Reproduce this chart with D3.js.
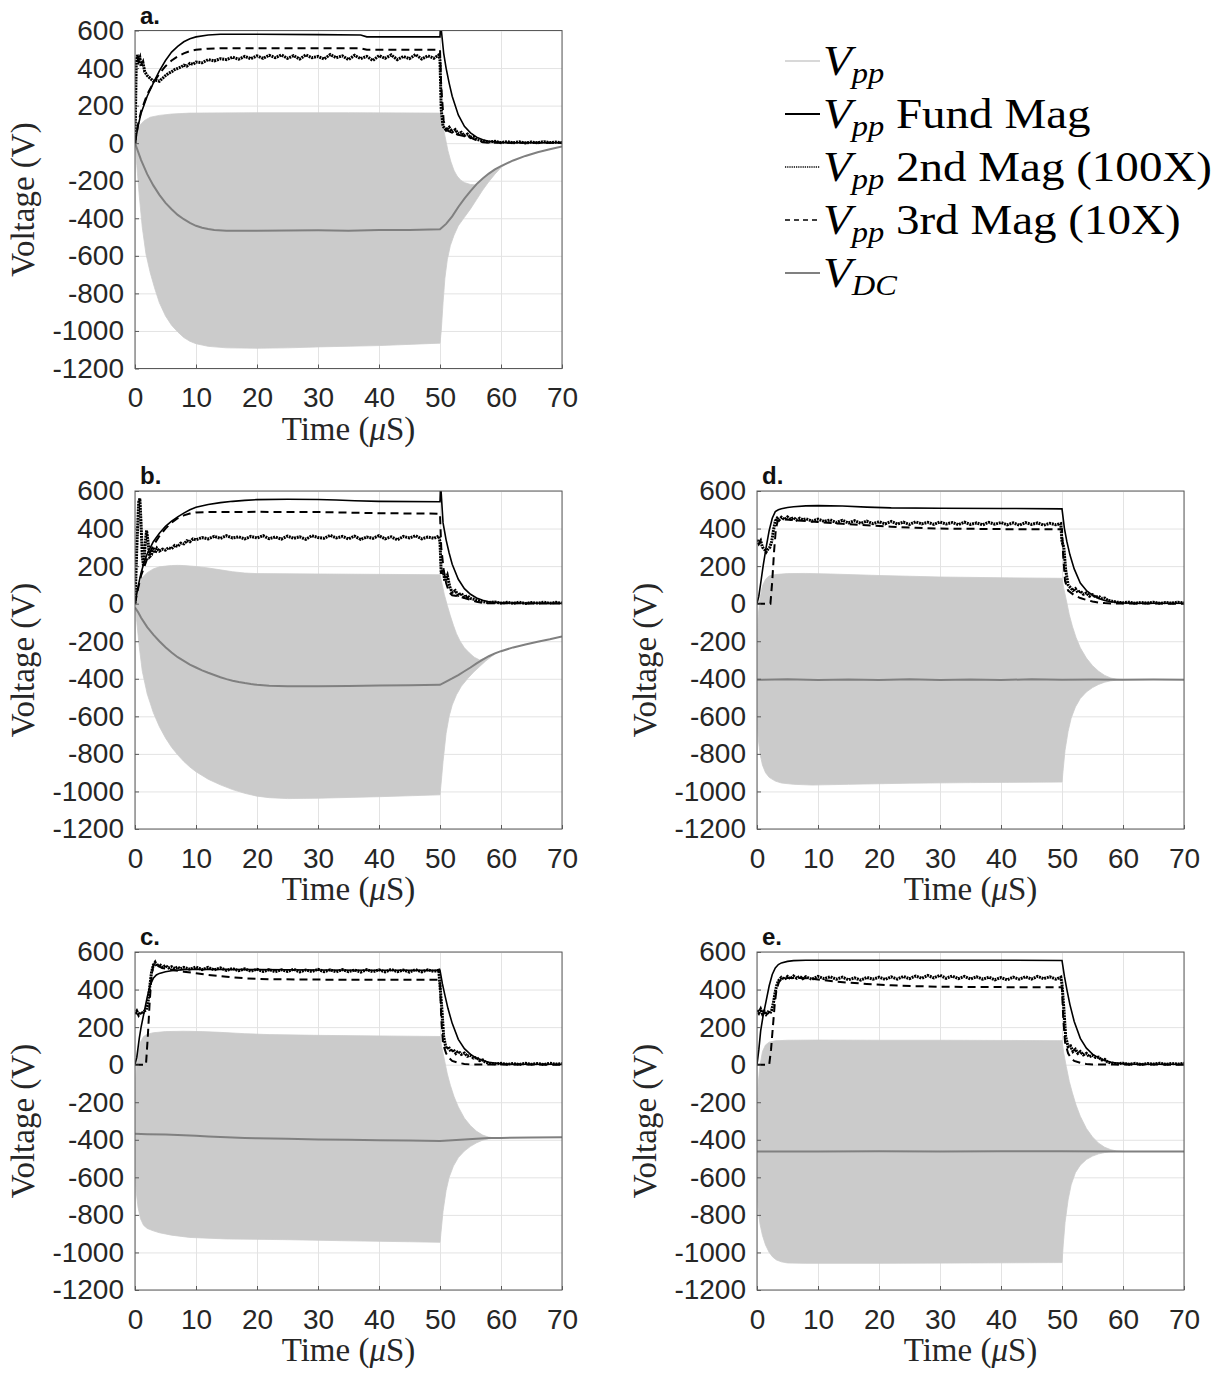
<!DOCTYPE html>
<html>
<head>
<meta charset="utf-8">
<script src="https://cdn.jsdelivr.net/npm/d3@7"></script>
<style>
  body { margin: 0; background: #ffffff; }
  svg { display: block; }
</style>
</head>
<body>
<svg id="fig" width="1228" height="1376"></svg>
<script>
// ---------- axis ticks ----------
const xTicks = [0, 10, 20, 30, 40, 50, 60, 70];
const yTicks = [-1200, -1000, -800, -600, -400, -200, 0, 200, 400, 600];

// ---------- panel a ----------
const upA = [[0,0],[0.3,50],[0.8,95],[1.5,120],[2.5,138],[4,148],[6,155],[9,160],[20,162],[35,162],[50,160],[50.3,120],[50.8,40],[51.3,-40],[51.8,-100],[52.3,-145],[52.8,-175],[53.4,-197],[54,-210],[55,-220],[55.8,-222],[56.5,-205],[57,-190],[58,-163],[59,-141],[60,-123],[61,-107]];
const lowA = [[0,0],[0.3,-120],[0.7,-280],[1.2,-450],[1.8,-590],[2.5,-690],[3.2,-770],[4,-850],[5,-920],[6,-970],[7,-1005],[8,-1035],[9,-1055],[10,-1068],[12,-1082],[15,-1090],[20,-1092],[25,-1090],[30,-1085],[40,-1078],[50,-1065],[50.2,-1000],[50.5,-850],[50.8,-720],[51.2,-620],[51.7,-545],[52.3,-490],[53,-440],[54,-395],[55,-350],[56,-300],[57,-250],[58,-205],[59,-165],[60,-130],[61,-107]];
const vdcA = [[0,0],[0.5,-45],[1,-90],[2,-165],[3,-225],[4,-275],[5,-318],[6,-352],[7,-382],[8,-405],[9,-425],[10,-440],[11,-450],[12,-457],[13,-462],[15,-466],[20,-467],[25,-465],[30,-464],[35,-466],[40,-463],[45,-462],[50,-459],[51,-430],[52,-390],[53,-340],[54,-295],[55,-255],[56,-218],[57,-188],[58,-162],[59,-140],[60,-122],[62,-92],[64,-68],[66,-48],[68,-32],[70,-18]];
const fundA = [[0,0],[0.5,90],[1,160],[2,250],[3,320],[4,385],[5,440],[6,485],[7,515],[8,540],[9,556],[10,566],[12,576],[14,580],[20,580],[30,578],[37,576],[38,566],[50,566],[50.1,640],[50.6,480],[51,400],[51.5,320],[52,250],[53,150],[54,90],[55,55],[56,32],[57,18],[58,10],[60,4],[62,2],[70,2]];
const dot2A = [[0,0],[0.2,420],[0.4,470],[0.6,440],[0.8,455],[1,410],[1.3,430],[1.6,380],[2,360],[2.5,345],[3,330],[3.5,335],[4,330],[4.5,345],[5,360],[5.5,372],[6,380],[6.5,392],[7,398],[7.5,405],[8,415],[8.5,410],[9,425],[9.5,420],[10,432],[11,428],[12,445],[13,438],[14,450],[15,445],[16,458],[17,447],[18,462],[19,450],[20,465],[21,452],[22,468],[23,455],[24,470],[25,452],[26,466],[27,448],[28,470],[29,455],[30,462],[31,448],[32,472],[33,455],[34,465],[35,445],[36,468],[37,450],[38,462],[39,440],[40,466],[41,452],[42,470],[43,445],[44,462],[45,450],[46,472],[47,448],[48,465],[49,452],[49.8,470],[50,440],[50.2,180],[50.5,90],[51,70],[51.5,85],[52,60],[52.5,72],[53,50],[53.5,58],[54,40],[54.5,48],[55,30],[55.5,35],[56,20],[57,12],[58,6],[59,10],[60,3],[61,8],[62,2],[63,7],[64,1],[65,6],[66,2],[67,8],[68,3],[69,6],[70,2]];
const dash3A = [[0,0],[0.5,100],[1,170],[2,260],[3,320],[4,370],[5,410],[6,440],[7,462],[8,478],[9,490],[10,497],[12,503],[15,506],[37,505],[38,497],[50,497],[50.2,300],[50.6,120],[51,70],[52,55],[53,45],[54,38],[55,30],[56,15],[57,5],[58,2],[70,2]];

// ---------- panel b ----------
const upB = [[0,0],[0.3,50],[0.7,100],[1.2,140],[2,165],[3,185],[4,196],[5,200],[6,203],[7,204],[8,203],[10,198],[12,190],[14,180],[16,170],[18,163],[20,160],[30,158],[40,156],[50,154],[50.3,110],[50.7,50],[51.2,-10],[51.7,-65],[52.2,-115],[52.7,-160],[53.3,-200],[54,-235],[54.8,-262],[55.6,-285],[56.5,-300],[57.5,-288],[58.5,-272],[59.5,-259]];
const lowB = [[0,0],[0.3,-100],[0.7,-230],[1.2,-360],[2,-480],[3,-580],[4,-655],[5,-715],[6,-765],[7,-805],[8,-840],[9,-870],[10,-895],[12,-935],[14,-965],[16,-990],[18,-1010],[20,-1025],[22,-1033],[25,-1038],[30,-1036],[40,-1028],[50,-1018],[50.2,-950],[50.5,-840],[51,-690],[51.5,-600],[52,-540],[52.7,-485],[53.5,-440],[54.5,-400],[55.5,-365],[56.5,-335],[57.5,-305],[58.5,-280],[59.5,-259]];
const vdcB = [[0,-20],[0.5,-45],[1,-75],[2,-125],[3,-165],[4,-200],[5,-232],[6,-260],[7,-285],[8,-305],[9,-325],[10,-340],[11,-355],[12,-368],[13,-380],[14,-392],[15,-402],[16,-410],[17,-417],[18,-423],[19,-428],[20,-432],[22,-437],[25,-440],[30,-440],[35,-438],[40,-436],[45,-434],[50,-432],[51,-415],[52,-398],[53,-380],[54,-360],[55,-340],[56,-318],[57,-298],[58,-280],[59,-265],[60,-253],[62,-233],[64,-217],[66,-203],[68,-190],[70,-175]];
const fundB = [[0,0],[0.5,90],[1,165],[1.5,220],[2,265],[3,330],[4,375],[5,412],[6,440],[7,462],[8,482],[9,500],[10,513],[12,528],[14,538],[16,545],[18,550],[20,554],[25,556],[30,555],[33,552],[36,548],[40,545],[50,543],[50.1,640],[50.5,430],[51,340],[51.5,270],[52,210],[53,130],[54,80],[55,50],[56,30],[57,18],[58,10],[60,4],[70,2]];
const dot2B = [[0,0],[0.3,300],[0.6,540],[0.8,560],[1,420],[1.2,250],[1.4,200],[1.7,330],[1.9,390],[2.1,340],[2.4,250],[2.7,260],[3,300],[3.3,270],[3.6,295],[4,280],[4.5,290],[5,285],[5.5,298],[6,292],[6.5,310],[7,305],[7.5,322],[8,318],[8.5,335],[9,330],[9.5,345],[10,340],[11,352],[12,345],[13,358],[14,348],[15,362],[16,350],[17,356],[18,345],[19,358],[20,350],[21,362],[22,346],[23,355],[24,344],[25,360],[26,348],[27,356],[28,343],[29,362],[30,352],[31,348],[32,364],[33,350],[34,358],[35,345],[36,360],[37,342],[38,355],[39,348],[40,362],[41,345],[42,356],[43,340],[44,358],[45,350],[46,362],[47,345],[48,355],[49,348],[49.8,360],[50,330],[50.2,160],[50.5,180],[50.8,120],[51.2,150],[51.6,90],[52,60],[52.5,70],[53,45],[53.5,55],[54,35],[54.5,42],[55,28],[56,20],[57,10],[58,6],[59,9],[60,3],[61,7],[62,2],[63,8],[64,1],[65,6],[66,3],[67,8],[68,2],[69,7],[70,3]];
const dash3B = [[0,0],[0.5,80],[1,150],[2,240],[3,310],[4,360],[5,400],[6,432],[7,455],[8,470],[9,480],[10,486],[12,488],[20,489],[30,488],[40,482],[50,479],[50.2,300],[50.6,180],[51,110],[51.5,60],[52,45],[53,40],[54,30],[55,20],[56,10],[57,4],[58,2],[70,1]];

// ---------- panel c ----------
const upC = [[0,-150],[0.2,-30],[0.5,60],[0.9,120],[1.4,150],[2,162],[3,170],[5,176],[8,178],[11,176],[14,172],[18,165],[22,160],[30,156],[40,153],[50,150],[50.3,90],[50.7,30],[51.2,-50],[51.7,-110],[52.3,-170],[53,-225],[54,-285],[55,-325],[56,-355],[57,-375],[58,-386],[59,-390],[60,-390]];
const lowC = [[0,-560],[0.2,-680],[0.5,-760],[0.9,-820],[1.4,-855],[2,-872],[3,-885],[4,-895],[6,-908],[9,-920],[15,-928],[25,-932],[35,-938],[45,-943],[50,-946],[50.2,-880],[50.5,-780],[51,-670],[51.5,-600],[52.2,-540],[53,-495],[54,-460],[55,-435],[56,-416],[57,-402],[58,-395],[59,-391],[60,-390]];
const vdcC = [[0,-368],[2,-370],[5,-372],[8,-376],[10,-378],[12,-382],[15,-386],[18,-390],[20,-392],[25,-395],[30,-398],[35,-400],[40,-403],[45,-404],[50,-406],[52,-402],[54,-398],[56,-394],[58,-391],[60,-390],[65,-388],[70,-387]];
const fundC = [[0,0],[0.3,40],[0.7,140],[1,200],[1.5,280],[2,360],[2.5,425],[3,460],[3.5,478],[4,486],[5,495],[6,500],[8,506],[10,508],[20,506],[30,504],[40,503],[50,502],[50.4,430],[50.8,370],[51.3,300],[52,220],[53,135],[54,85],[55,55],[56,35],[57,22],[58,13],[60,5],[62,2],[70,2]];
const dot2C = [[0,270],[0.3,285],[0.6,265],[0.9,280],[1.2,270],[1.5,285],[1.8,290],[2.1,320],[2.4,410],[2.7,490],[3,530],[3.3,545],[3.6,525],[4,535],[4.5,518],[5,528],[5.5,515],[6,522],[6.5,512],[7,520],[7.5,510],[8,518],[9,508],[10,520],[11,506],[12,518],[13,505],[14,515],[15,502],[16,512],[17,500],[18,510],[19,498],[20,508],[21,496],[22,506],[23,495],[24,505],[25,496],[26,508],[27,494],[28,504],[29,496],[30,508],[31,495],[32,505],[33,494],[34,506],[35,495],[36,504],[37,493],[38,506],[39,495],[40,505],[41,494],[42,507],[43,495],[44,504],[45,493],[46,506],[47,494],[48,505],[49,496],[49.8,503],[50,420],[50.3,300],[50.6,150],[51,85],[51.4,95],[51.8,70],[52.2,80],[52.6,60],[53,72],[53.5,55],[54,62],[54.5,45],[55,50],[55.5,35],[56,38],[56.5,22],[57,25],[57.5,12],[58,8],[59,4],[60,7],[61,2],[62,6],[63,1],[64,7],[65,2],[66,6],[67,1],[68,7],[69,3],[70,5]];
const dash3C = [[0,0],[1.8,0],[2.1,150],[2.4,330],[2.7,470],[3,530],[3.3,540],[3.8,525],[4.5,515],[6,505],[8,495],[10,487],[12,478],[15,468],[18,460],[22,455],[30,453],[40,452],[50,452],[50.2,250],[50.5,110],[51,60],[51.5,35],[52,20],[53,10],[54,4],[55,1],[70,0]];

// ---------- panel d ----------
const upD = [[0,-200],[0.2,-60],[0.5,30],[0.9,95],[1.4,130],[2,148],[3,155],[5,160],[8,161],[12,158],[20,150],[30,142],[40,138],[50,135],[50.3,80],[50.7,20],[51.2,-60],[51.7,-120],[52.3,-180],[53,-235],[54,-290],[55,-330],[56,-360],[57,-382],[58,-396],[59,-403],[60,-405]];
const lowD = [[0,-620],[0.2,-720],[0.5,-800],[0.9,-860],[1.4,-900],[2,-925],[3,-945],[4,-955],[6,-962],[9,-966],[15,-962],[25,-956],[35,-953],[50,-950],[50.2,-880],[50.5,-780],[51,-680],[51.5,-610],[52.2,-550],[53,-505],[54,-470],[55,-447],[56,-430],[57,-418],[58,-411],[59,-407],[60,-405]];
const vdcD = [[0,-405],[5,-403],[10,-407],[15,-404],[20,-406],[25,-403],[30,-406],[35,-404],[40,-406],[45,-403],[50,-405],[55,-404],[60,-405],[65,-404],[70,-405]];
const fundD = [[0,0],[0.3,40],[0.7,130],[1,200],[1.5,300],[2,390],[2.5,455],[3,490],[3.5,500],[4,505],[5,512],[6,516],[8,521],[10,522],[14,520],[18,514],[22,510],[30,508],[40,507],[50,505],[50.4,400],[50.8,330],[51.3,260],[52,185],[53,110],[54,70],[55,45],[56,28],[57,17],[58,10],[60,4],[62,2],[70,2]];
const dot2D = [[0,340],[0.3,320],[0.6,335],[0.9,300],[1.2,290],[1.5,275],[1.8,290],[2.1,300],[2.4,330],[2.7,390],[3,440],[3.3,455],[3.6,445],[4,460],[4.5,448],[5,462],[5.5,450],[6,458],[6.5,445],[7,455],[7.5,448],[8,452],[9,440],[10,450],[11,438],[12,446],[13,432],[14,444],[15,430],[16,442],[17,428],[18,440],[19,426],[20,436],[21,425],[22,438],[23,424],[24,434],[25,422],[26,436],[27,425],[28,433],[29,422],[30,435],[31,424],[32,432],[33,421],[34,434],[35,422],[36,430],[37,420],[38,433],[39,423],[40,432],[41,420],[42,430],[43,418],[44,432],[45,422],[46,430],[47,418],[48,428],[49,420],[49.8,426],[50,330],[50.3,300],[50.6,180],[51,100],[51.4,85],[51.8,70],[52.2,80],[52.6,60],[53,68],[53.5,50],[54,58],[54.5,40],[55,48],[55.5,35],[56,40],[56.5,28],[57,30],[57.5,18],[58,15],[59,8],[60,5],[61,8],[62,2],[63,7],[64,3],[65,8],[66,2],[67,6],[68,3],[69,8],[70,4]];
const dash3D = [[0,0],[2.2,0],[2.5,120],[2.8,280],[3.1,400],[3.4,440],[4,450],[6,445],[8,440],[10,435],[14,425],[18,418],[22,410],[26,404],[30,400],[40,397],[50,396],[50.2,250],[50.5,120],[51,70],[52,45],[53,30],[54,20],[55,12],[56,6],[57,3],[58,1],[70,0]];

// ---------- panel e ----------
const upE = [[0,-250],[0.2,-100],[0.5,0],[0.9,70],[1.4,105],[2,120],[3,127],[5,130],[10,131],[20,130],[30,130],[40,129],[50,128],[50.3,60],[50.7,-10],[51.2,-90],[51.7,-150],[52.3,-215],[53,-275],[54,-340],[55,-385],[56,-418],[57,-440],[58,-453],[59,-460],[60,-462]];
const lowE = [[0,-680],[0.2,-780],[0.5,-850],[0.9,-910],[1.4,-960],[2,-1000],[2.6,-1025],[3.2,-1040],[4,-1050],[5,-1056],[8,-1058],[20,-1058],[35,-1056],[50,-1054],[50.2,-960],[50.5,-840],[51,-720],[51.5,-640],[52.2,-575],[53,-535],[54,-505],[55,-487],[56,-475],[57,-468],[58,-464],[59,-462],[60,-462]];
const vdcE = [[0,-462],[10,-462],[20,-461],[30,-462],[40,-461],[50,-461],[60,-462],[70,-462]];
const fundE = [[0,0],[0.3,80],[0.6,180],[1,260],[1.5,340],[2,420],[2.5,480],[3,515],[3.5,533],[4,542],[5,550],[6,554],[8,556],[20,556],[30,556],[40,556],[50,555],[50.4,470],[50.8,400],[51.3,320],[52,230],[53,140],[54,88],[55,56],[56,36],[57,22],[58,13],[60,5],[62,2],[70,2]];
const dot2E = [[0,290],[0.3,275],[0.6,295],[0.9,270],[1.2,285],[1.5,268],[1.8,280],[2.1,272],[2.4,290],[2.7,330],[3,390],[3.3,430],[3.6,450],[4,465],[4.5,455],[5,470],[5.5,458],[6,472],[6.5,460],[7,470],[7.5,458],[8,468],[9,455],[10,470],[11,458],[12,468],[13,455],[14,466],[15,452],[16,462],[17,450],[18,465],[19,455],[20,466],[21,454],[22,468],[23,456],[24,470],[25,458],[26,472],[27,460],[28,475],[29,462],[30,476],[31,460],[32,472],[33,458],[34,470],[35,456],[36,468],[37,455],[38,466],[39,452],[40,464],[41,452],[42,466],[43,455],[44,468],[45,456],[46,470],[47,458],[48,468],[49,455],[49.8,466],[50,430],[50.3,300],[50.6,150],[51,95],[51.4,100],[51.8,70],[52.2,82],[52.6,60],[53,70],[53.5,52],[54,60],[54.5,42],[55,50],[55.5,38],[56,40],[56.5,25],[57,28],[57.5,14],[58,9],[59,4],[60,8],[61,2],[62,7],[63,1],[64,6],[65,3],[66,8],[67,2],[68,6],[69,3],[70,7]];
const dash3E = [[0,0],[2,0],[2.3,80],[2.6,200],[2.9,320],[3.2,400],[3.6,440],[4,455],[5,462],[7,462],[9,458],[11,450],[13,442],[15,437],[18,430],[22,423],[26,418],[30,415],[40,413],[50,412],[50.2,250],[50.5,120],[51,60],[51.5,35],[52,20],[53,10],[54,4],[55,1],[70,0]];

// ---------- legend entries ----------
const legendSub = ["pp", "pp", "pp", "pp", "DC"];
const legendText = ["", " Fund Mag", " 2nd Mag (100X)", " 3rd Mag (10X)", ""];

// ---------- styles ----------
const C = {
  fill: "#cbcbcb",
  vdc: "#808080",
  ink: "#000000",
  text: "#262626",
  grid: "#e3e3e3",
  box: "#5a5a5a"
};

const panels = [
  { key: "a", up: upA, low: lowA, vdc: vdcA, fund: fundA, dot2: dot2A, dash3: dash3A },
  { key: "b", up: upB, low: lowB, vdc: vdcB, fund: fundB, dot2: dot2B, dash3: dash3B },
  { key: "c", up: upC, low: lowC, vdc: vdcC, fund: fundC, dot2: dot2C, dash3: dash3C },
  { key: "d", up: upD, low: lowD, vdc: vdcD, fund: fundD, dot2: dot2D, dash3: dash3D },
  { key: "e", up: upE, low: lowE, vdc: vdcE, fund: fundE, dot2: dot2E, dash3: dash3E }
];

// axes placement (top-left corner of each plot box)
const origin = { a: [135, 30.5], b: [135, 491], c: [135, 952], d: [757, 491], e: [757, 952] };
const W = 427, H = 338;

const svg = d3.select("#fig");
const defs = svg.append("defs");

function drawPanel(p) {
  const [ox, oy] = origin[p.key];
  const x = d3.scaleLinear().domain([0, 70]).range([0, W]);
  const y = d3.scaleLinear().domain([-1200, 600]).range([H, 0]);
  const g = svg.append("g").attr("transform", `translate(${ox},${oy})`);

  defs.append("clipPath").attr("id", "clip-" + p.key)
    .append("rect").attr("width", W).attr("height", H);

  // grid
  g.append("g").attr("transform", `translate(0,${H})`)
    .call(d3.axisBottom(x).tickValues(xTicks).tickSize(-H).tickFormat(""))
    .call(s => s.select(".domain").remove())
    .call(s => s.selectAll("line").attr("stroke", C.grid).attr("stroke-width", 1));
  g.append("g")
    .call(d3.axisLeft(y).tickValues(yTicks).tickSize(-W).tickFormat(""))
    .call(s => s.select(".domain").remove())
    .call(s => s.selectAll("line").attr("stroke", C.grid).attr("stroke-width", 1));

  const plot = g.append("g").attr("clip-path", `url(#clip-${p.key})`);
  const line = d3.line().x(d => x(d[0])).y(d => y(d[1]));

  // oscillating Vpp waveform envelope
  const envelope = p.up.concat(p.low.slice().reverse());
  plot.append("path").attr("d", line(envelope) + "Z")
    .attr("fill", C.fill).attr("stroke", C.fill).attr("stroke-width", 0.8);

  plot.append("path").attr("d", line(p.vdc))
    .attr("fill", "none").attr("stroke", C.vdc).attr("stroke-width", 2);

  plot.append("path").attr("d", line(p.dash3))
    .attr("fill", "none").attr("stroke", C.ink).attr("stroke-width", 2)
    .attr("stroke-dasharray", "8 5");

  plot.append("path").attr("d", line(p.dot2))
    .attr("fill", "none").attr("stroke", C.ink).attr("stroke-width", 3)
    .attr("stroke-dasharray", "2 0.8");

  plot.append("path").attr("d", line(p.fund))
    .attr("fill", "none").attr("stroke", C.ink).attr("stroke-width", 1.6);

  // box
  g.append("rect").attr("width", W).attr("height", H)
    .attr("fill", "none").attr("stroke", C.box).attr("stroke-width", 1);

  // tick marks and labels
  const xa = g.append("g").attr("transform", `translate(0,${H})`)
    .call(d3.axisBottom(x).tickValues(xTicks).tickSizeInner(-4).tickSizeOuter(0).tickPadding(19)
      .tickFormat(d => String(d)));
  const ya = g.append("g")
    .call(d3.axisLeft(y).tickValues(yTicks).tickSizeInner(-4).tickSizeOuter(0).tickPadding(11)
      .tickFormat(d => String(d)));
  [xa, ya].forEach(a => {
    a.select(".domain").remove();
    a.selectAll("line").attr("stroke", C.box);
    a.selectAll("text").attr("fill", C.text)
      .style("font-family", "'Liberation Sans', Arial, sans-serif").style("font-size", "28px");
  });

  // axis titles
  g.append("text")
    .attr("transform", `translate(-101,${H / 2}) rotate(-90)`)
    .attr("text-anchor", "middle").attr("fill", C.text)
    .style("font-family", "'Liberation Serif', 'Times New Roman', serif").style("font-size", "33px")
    .text("Voltage (V)");

  const xl = g.append("text")
    .attr("x", W / 2).attr("y", H + 71)
    .attr("text-anchor", "middle").attr("fill", C.text)
    .style("font-family", "'Liberation Serif', 'Times New Roman', serif").style("font-size", "33px");
  xl.append("tspan").text("Time (");
  xl.append("tspan").attr("font-style", "italic").text("\u03bc");
  xl.append("tspan").text("S)");

  // panel letter
  g.append("text").attr("x", 5).attr("y", -7)
    .attr("fill", "#111")
    .style("font-family", "'Liberation Sans', Arial, sans-serif")
    .style("font-size", "24px").style("font-weight", "bold")
    .text(p.key + ".");
}

panels.forEach(drawPanel);

// ---------- legend ----------
const legendStyles = [
  { stroke: C.fill, dash: null, w: 1.6 },
  { stroke: C.ink, dash: null, w: 1.8 },
  { stroke: C.ink, dash: "1.2 1", w: 1.6 },
  { stroke: C.ink, dash: "5 4", w: 1.6 },
  { stroke: C.vdc, dash: null, w: 1.8 }
];
const legendY = d3.scalePoint().domain(d3.range(5)).range([61, 273]);
const leg = svg.append("g");
legendStyles.forEach((s, i) => {
  const yy = legendY(i);
  leg.append("line").attr("x1", 785).attr("x2", 820).attr("y1", yy).attr("y2", yy)
    .attr("stroke", s.stroke).attr("stroke-width", s.w)
    .attr("stroke-dasharray", s.dash);
  const t = leg.append("text")
    .attr("transform", `translate(823,${yy + 14}) scale(1.12,1)`)
    .attr("fill", "#000")
    .style("font-family", "'Liberation Serif', 'Times New Roman', serif")
    .style("font-size", "42px");
  t.append("tspan").attr("font-style", "italic").text("V");
  t.append("tspan").attr("font-style", "italic").attr("font-size", "29px").attr("dy", 8).text(legendSub[i]);
  if (legendText[i]) t.append("tspan").attr("dy", -8).text(legendText[i]);
});
</script>
</body>
</html>
